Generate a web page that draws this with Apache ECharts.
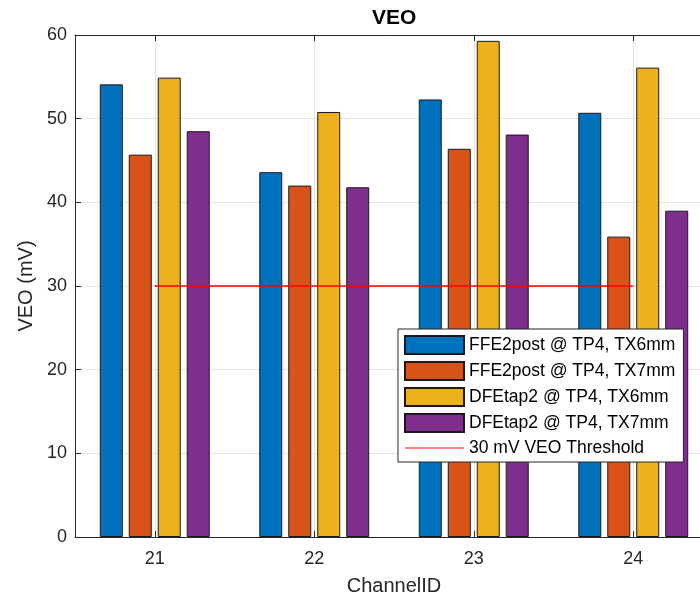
<!DOCTYPE html>
<html>
<head>
<meta charset="utf-8">
<script src="https://cdn.jsdelivr.net/npm/echarts@6/dist/echarts.min.js"></script>
<style>
  html, body { margin: 0; padding: 0; background: #fff; overflow: hidden; }
  #chart { width: 700px; height: 596px; }
</style>
</head>
<body>
<div id="chart"></div>
<script>
// data
const channels = ['21', '22', '23', '24'];
const ffe2postTx6 = [54.1, 43.6, 52.3, 50.7];
const ffe2postTx7 = [45.7, 42.0, 46.4, 35.9];
const dfetap2Tx6 = [54.9, 50.8, 59.3, 56.1];
const dfetap2Tx7 = [48.5, 41.8, 48.1, 39.0];
const veoThreshold = [30, 30, 30, 30];
const seriesNames = [
  'FFE2post @ TP4, TX6mm',
  'FFE2post @ TP4, TX7mm',
  'DFEtap2 @ TP4, TX6mm',
  'DFEtap2 @ TP4, TX7mm',
  '30 mV VEO Threshold'
];
const yMin = 0, yMax = 60, yStep = 10;

const FONT = 'Liberation Sans, Arial, Helvetica, sans-serif';
const AXIS = '#262626';
const colors = ['#0072BD', '#D95319', '#EDB120', '#7E2F8E'];

const barValues = [ffe2postTx6, ffe2postTx7, dfetap2Tx6, dfetap2Tx7];

const chart = echarts.init(document.getElementById('chart'));

const option = {
  animation: false,
  title: {
    text: 'VEO',
    left: 372,
    top: 8,
    padding: 0,
    textStyle: { fontFamily: FONT, fontSize: 21, fontWeight: 'bold', color: '#000' }
  },
  // the axes box runs past the right edge of the figure (MATLAB crop)
  grid: { left: 75, top: 35, width: 638, height: 502, outerBoundsMode: 'none', containLabel: false, show: false },
  legend: {
    orient: 'vertical',
    left: 398,
    top: 329,
    padding: [6, 8, 5, 6],
    itemGap: 6,
    itemWidth: 59,
    itemHeight: 18,
    backgroundColor: '#fff',
    borderColor: AXIS,
    borderWidth: 1,
    borderRadius: 0,
    selectedMode: false,
    textStyle: { fontFamily: FONT, fontSize: 17.5, color: '#000' },
    data: seriesNames.map((n, i) => (i < 4
      ? { name: n, icon: 'rect' }
      : { name: n, icon: 'path://M0,0H59V1.2H0Z' }))
  },
  xAxis: [
    {
      type: 'category',
      data: channels,
      position: 'bottom',
      name: 'ChannelID',
      nameLocation: 'middle',
      nameGap: 39,
      nameTextStyle: { fontFamily: FONT, fontSize: 20, color: AXIS },
      axisLine: { show: true, lineStyle: { color: AXIS, width: 1 } },
      axisTick: { show: true, inside: true, alignWithLabel: true, length: 6, lineStyle: { color: AXIS } },
      axisLabel: { fontFamily: FONT, fontSize: 18, color: AXIS, margin: 13 },
      splitLine: { show: true, alignWithLabel: true, lineStyle: { color: '#e3e3e3', width: 1 } }
    },
    {
      type: 'category',
      data: channels,
      position: 'top',
      axisLine: { show: true, lineStyle: { color: AXIS, width: 1 } },
      axisTick: { show: true, inside: true, alignWithLabel: true, length: 6, lineStyle: { color: AXIS } },
      axisLabel: { show: false },
      splitLine: { show: false }
    }
  ],
  yAxis: {
    type: 'value',
    min: yMin,
    max: yMax,
    interval: yStep,
    name: 'VEO (mV)',
    nameLocation: 'middle',
    nameGap: 37,
    nameTextStyle: { fontFamily: FONT, fontSize: 20, color: AXIS },
    axisLine: { show: true, lineStyle: { color: AXIS, width: 1 } },
    axisTick: { show: true, inside: true, length: 6, lineStyle: { color: AXIS } },
    axisLabel: { fontFamily: FONT, fontSize: 18, color: AXIS, margin: 8 },
    splitLine: { show: true, lineStyle: { color: '#e3e3e3', width: 1 } }
  },
  series: barValues.map((vals, i) => ({
    name: seriesNames[i],
    type: 'bar',
    xAxisIndex: 0,
    data: vals,
    barWidth: 23,
    barGap: '26%',
    z: 2,
    itemStyle: { color: colors[i], borderColor: '#1a1a1a', borderWidth: 1 }
  })).concat([{
    name: seriesNames[4],
    type: 'line',
    xAxisIndex: 0,
    data: veoThreshold,
    symbol: 'none',
    z: 5,
    color: '#FF0000',
    itemStyle: { color: '#FF0000' },
    lineStyle: { color: '#FF0000', width: 1.3 }
  }])
};

chart.setOption(option);
</script>
</body>
</html>
